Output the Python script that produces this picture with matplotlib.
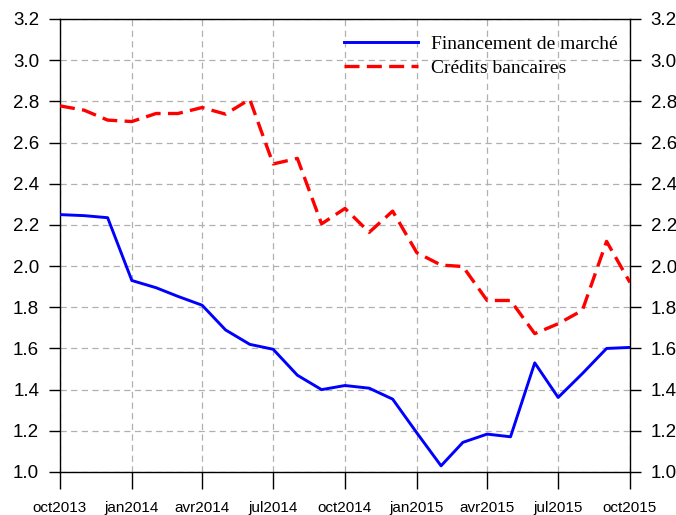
import matplotlib
matplotlib.use("Agg")
import matplotlib.pyplot as plt
import pandas as pd

months = pd.date_range("2013-10-01", periods=25, freq="MS")

financement_marche = [2.25, 2.245, 2.235, 1.93, 1.895, 1.853, 1.81, 1.69, 1.62, 1.596,
                      1.47, 1.40, 1.42, 1.407, 1.354, 1.19, 1.03, 1.144, 1.184, 1.171,
                      1.53, 1.362, 1.478, 1.60, 1.605]
credits_bancaires = [2.778, 2.757, 2.709, 2.702, 2.741, 2.741, 2.77, 2.738, 2.81, 2.496,
                     2.523, 2.205, 2.28, 2.164, 2.267, 2.065, 2.005, 1.998, 1.833, 1.833,
                     1.672, 1.72, 1.785, 2.12, 1.92]

tick_dates = pd.date_range("2013-10-01", "2015-10-01", freq="3MS")
tick_labels = ["oct2013", "jan2014", "avr2014", "jul2014", "oct2014",
               "jan2015", "avr2015", "jul2015", "oct2015"]
y_ticks = [1.0, 1.2, 1.4, 1.6, 1.8, 2.0, 2.2, 2.4, 2.6, 2.8, 3.0, 3.2]

plt.rcParams["font.family"] = ["Liberation Sans", "DejaVu Sans"]

fig = plt.figure(figsize=(6.76, 5.15), dpi=100)
ax = fig.add_axes([60 / 676, 43 / 515, 570 / 676, 453 / 515])

ax.plot(months, financement_marche, color="#0000ff", linewidth=2.1,
        label="Financement de marché", zorder=3)
ax.plot(months, credits_bancaires, color="#ff0000", linewidth=2.4,
        dashes=(4.5, 2.2), label="Crédits bancaires", zorder=3)

ax.set_xlim(months[0], months[-1])
ax.set_ylim(1.0, 3.2)
ax.set_xticks(tick_dates)
ax.set_xticklabels(tick_labels, fontsize=11)
ax.set_yticks(y_ticks)
ax.set_yticklabels([f"{v:.1f}" for v in y_ticks], fontsize=13.5)

ax.grid(True, color="#b0b0b0", linestyle=(0, (5, 3.5)), linewidth=0.9)
ax.tick_params(axis="y", direction="out", length=8, width=1, pad=7,
               right=True, labelright=True)
ax.tick_params(axis="x", direction="out", length=12, width=1, pad=9)
for sp in ax.spines.values():
    sp.set_linewidth(1)

leg = ax.legend(loc="upper right", frameon=False,
                prop={"family": "Liberation Serif", "size": 14},
                handlelength=3.8, handletextpad=0.7, labelspacing=0.3,
                borderaxespad=0.2, bbox_to_anchor=(0.999, 0.989))

fig.savefig("out.png", dpi=100)
